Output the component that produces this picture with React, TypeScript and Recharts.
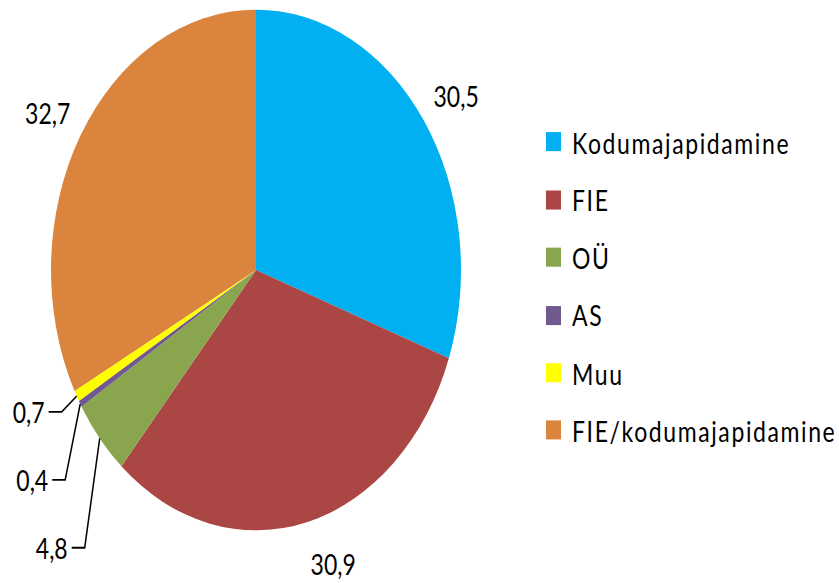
import React from 'react';
import { PieChart, Pie, Cell, Legend } from 'recharts';

const categories = ['Kodumajapidamine', 'FIE', 'OÜ', 'AS', 'Muu', 'FIE/kodumajapidamine'];
const shares = [30.5, 30.9, 4.8, 0.4, 0.7, 32.7];
const colors = ['#00B0F0', '#AA4643', '#89A54E', '#71588F', '#FFFF00', '#DB843D'];

// the original picture is stretched vertically, so draw it round and stretch it
const STRETCH = 1.27;
const W = 839;
const H = 583 / STRETCH;
const FONT = 'Lato, "Open Sans", sans-serif';

const data = categories.map((name, i) => ({ name, value: shares[i] }));

const SMALL = 5;
const smallIdx = data.map((d, i) => (d.value < SMALL ? i : -1)).filter((i) => i >= 0);

const fmt = (v: number) => v.toFixed(1).replace('.', ',');
const RAD = Math.PI / 180;

function renderLabel(props: any) {
  const { cx, cy, midAngle, outerRadius, index, value } = props;
  const cos = Math.cos(-midAngle * RAD);
  const sin = Math.sin(-midAngle * RAD);
  if (value >= SMALL) {
    const rx = outerRadius + 12;
    const ry = outerRadius + 34;
    return (
      <text
        x={cx + rx * cos}
        y={cy + ry * sin}
        textAnchor={cos >= 0 ? 'start' : 'end'}
        dominantBaseline="central"
        fontFamily={FONT}
        fontSize={23}
        fill="#000"
      >
        {fmt(value)}
      </text>
    );
  }
  // small slices: stacked labels with leader lines on the lower left
  const k = smallIdx.length - 1 - smallIdx.indexOf(index);
  const ax = cx + outerRadius * cos;
  const ay = cy + outerRadius * sin;
  const ly = cy + outerRadius * 0.545 + k * 53.5;
  const ex = ax - 15;
  const hx = ex - 13;
  return (
    <g>
      <polyline
        points={`${ax},${ay} ${ex},${ly} ${hx},${ly}`}
        fill="none"
        stroke="#000"
        strokeWidth={1.5}
      />
      <text
        x={hx - 4}
        y={ly}
        textAnchor="end"
        dominantBaseline="central"
        fontFamily={FONT}
        fontSize={23}
        fill="#000"
      >
        {fmt(value)}
      </text>
    </g>
  );
}

function LegendBox() {
  return (
    <div style={{ fontFamily: FONT, fontSize: 23, color: '#000', letterSpacing: 1.6 }}>
      {categories.map((c, i) => (
        <div key={c} style={{ height: 45.4, display: 'flex', alignItems: 'center', whiteSpace: 'nowrap' }}>
          <span
            style={{
              width: 15,
              height: 15,
              background: colors[i],
              display: 'inline-block',
              marginRight: 11,
            }}
          />
          <span>{c}</span>
        </div>
      ))}
    </div>
  );
}

export default function App() {
  return (
    <div style={{ position: 'absolute', left: 0, top: 0, width: W, height: 583, overflow: 'hidden', background: '#fff' }}>
      <div style={{ width: W, height: H, transform: `scaleY(${STRETCH})`, transformOrigin: '0 0' }}>
        <PieChart width={W} height={H} margin={{ top: 0, right: 0, bottom: 0, left: 0 }}>
          <Pie
            data={data}
            dataKey="value"
            nameKey="name"
            cx={256}
            cy={212.6}
            outerRadius={205}
            startAngle={90}
            endAngle={-270}
            stroke="none"
            label={renderLabel}
            labelLine={false}
            isAnimationActive={false}
          >
            {data.map((d, i) => (
              <Cell key={d.name} fill={colors[i]} />
            ))}
          </Pie>
          <Legend
            layout="vertical"
            content={() => <LegendBox />}
            wrapperStyle={{ left: 546, top: 89.3, width: 293 }}
          />
        </PieChart>
      </div>
    </div>
  );
}
